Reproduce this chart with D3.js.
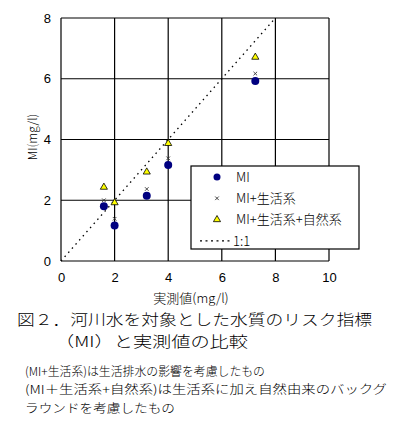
<!DOCTYPE html>
<html>
<head>
<meta charset="utf-8">
<script src="https://cdn.jsdelivr.net/npm/d3@7"></script>
<style>
  body { margin: 0; background: #fff; }
  text { font-family: "Noto Sans CJK JP", "DejaVu Sans", sans-serif; font-weight: 300; fill: #000; }
</style>
</head>
<body>
<div id="chart"></div>
<script>
// measured values (mg/l)
const observed = [1.6, 2.0, 3.2, 4.0, 7.25];
const miValues = [1.8, 1.17, 2.15, 3.16, 5.93];
const miHousehold = [2.0, 1.39, 2.37, 3.38, 6.17];
const miHouseholdNatural = [2.43, 1.92, 2.93, 3.87, 6.71];
const tickValues = [0, 2, 4, 6, 8, 10];
const yTickValues = [0, 2, 4, 6, 8];
const legendLabels = ["MI", "MI+生活系", "MI+生活系+自然系", "1:1"];
const captionLines = ["図２．河川水を対象とした水質のリスク指標", "（MI）と実測値の比較"];
const noteLines = ["(MI+生活系)は生活排水の影響を考慮したもの",
  "(MI＋生活系+自然系)は生活系に加え自然由来のバックグ",
  "ラウンドを考慮したもの"];

const margin = { top: 18, left: 61 };
const width = 268, height = 243;

const svg = d3.select("#chart").append("svg")
  .attr("width", 397).attr("height", 425);

const x = d3.scaleLinear().domain([0, 10]).range([0, width]);
const y = d3.scaleLinear().domain([0, 8]).range([height, 0]);

const g = svg.append("g")
  .attr("transform", "translate(" + margin.left + "," + margin.top + ")");

// grid
g.selectAll(".vgrid").data(tickValues).enter().append("line")
  .attr("x1", d => x(d)).attr("x2", d => x(d))
  .attr("y1", 0).attr("y2", height)
  .attr("stroke", "#000").attr("stroke-width", 1.2);
g.selectAll(".hgrid").data(yTickValues).enter().append("line")
  .attr("x1", 0).attr("x2", width)
  .attr("y1", d => y(d)).attr("y2", d => y(d))
  .attr("stroke", "#000").attr("stroke-width", 1.2);

// axes (labels only)
const xAxis = g.append("g").attr("transform", "translate(0," + height + ")")
  .call(d3.axisBottom(x).tickValues(tickValues).tickSize(0).tickPadding(12));
const yAxis = g.append("g")
  .call(d3.axisLeft(y).tickValues(yTickValues).tickSize(0).tickPadding(10));
[xAxis, yAxis].forEach(a => {
  a.select(".domain").remove();
  a.selectAll("text").style("font-size", "13px")
    .style("font-family", "'Liberation Sans', sans-serif");
});

// 1:1 line
g.append("line")
  .attr("x1", x(0)).attr("y1", y(0)).attr("x2", x(8)).attr("y2", y(8))
  .attr("stroke", "#000").attr("stroke-width", 1.3)
  .attr("stroke-dasharray", "1.5,4");

// points
const pts = observed.map((d, i) => ({ x: d, mi: miValues[i], h: miHousehold[i], hn: miHouseholdNatural[i] }));

const tri = d3.symbol().type(d3.symbolTriangle).size(22);
g.selectAll(".tri").data(pts).enter().append("path")
  .attr("d", tri)
  .attr("transform", d => "translate(" + x(d.x) + "," + y(d.hn) + ")")
  .attr("fill", "#ffff00").attr("stroke", "#000").attr("stroke-width", 0.8);

const cross = d3.symbol().type(d3.symbolX).size(10);
g.selectAll(".cross").data(pts).enter().append("path")
  .attr("d", cross)
  .attr("transform", d => "translate(" + x(d.x) + "," + y(d.h) + ")")
  .attr("fill", "none").attr("stroke", "#333").attr("stroke-width", 0.9);

g.selectAll(".dot").data(pts).enter().append("circle")
  .attr("cx", d => x(d.x)).attr("cy", d => y(d.mi)).attr("r", 4)
  .attr("fill", "#000080");

// legend
const lg = svg.append("g").attr("transform", "translate(191,166)");
lg.append("rect").attr("width", 168).attr("height", 83)
  .attr("fill", "#fff").attr("stroke", "#000").attr("stroke-width", 1.2);
const rowY = i => 11 + i * 21.3;
lg.append("circle").attr("cx", 26).attr("cy", rowY(0)).attr("r", 3.5).attr("fill", "#000080");
lg.append("path").attr("d", cross).attr("transform", "translate(26," + rowY(1) + ")")
  .attr("fill", "none").attr("stroke", "#333").attr("stroke-width", 0.9);
lg.append("path").attr("d", tri).attr("transform", "translate(26," + rowY(2) + ")")
  .attr("fill", "#ffff00").attr("stroke", "#000").attr("stroke-width", 0.8);
lg.append("line").attr("x1", 9).attr("x2", 41).attr("y1", rowY(3)).attr("y2", rowY(3))
  .attr("stroke", "#000").attr("stroke-width", 1.3).attr("stroke-dasharray", "2,3.5");
lg.selectAll(".lt").data(legendLabels).enter().append("text")
  .attr("x", (d, i) => i === 3 ? 42 : 45)
  .attr("y", (d, i) => rowY(i))
  .attr("dy", "0.36em")
  .style("font-size", "13px")
  .text(d => d);

// axis titles
svg.append("text")
  .attr("x", 191).attr("y", 298).attr("dy", "0.36em")
  .attr("text-anchor", "middle").style("font-size", "13px")
  .text("実測値(mg/l)");
svg.append("text")
  .attr("transform", "translate(33,137) rotate(-90)")
  .attr("dy", "0.36em")
  .attr("text-anchor", "middle").style("font-size", "12px")
  .text("MI(mg/l)");

// caption
svg.selectAll(".cap").data(captionLines).enter().append("text")
  .attr("x", (d, i) => i === 0 ? 17 : 55)
  .attr("y", (d, i) => 320 + i * 22)
  .attr("dy", "0.36em")
  .attr("textLength", (d, i) => i === 0 ? 355 : 193)
  .attr("lengthAdjust", "spacingAndGlyphs")
  .style("font-size", "15px")
  .text(d => d);

// notes
svg.selectAll(".note").data(noteLines).enter().append("text")
  .attr("x", 25)
  .attr("y", (d, i) => [372, 390, 409][i])
  .attr("dy", "0.36em")
  .attr("textLength", (d, i) => [240, 362, 150][i])
  .attr("lengthAdjust", "spacingAndGlyphs")
  .style("font-size", "12px")
  .text(d => d);
</script>
</body>
</html>
